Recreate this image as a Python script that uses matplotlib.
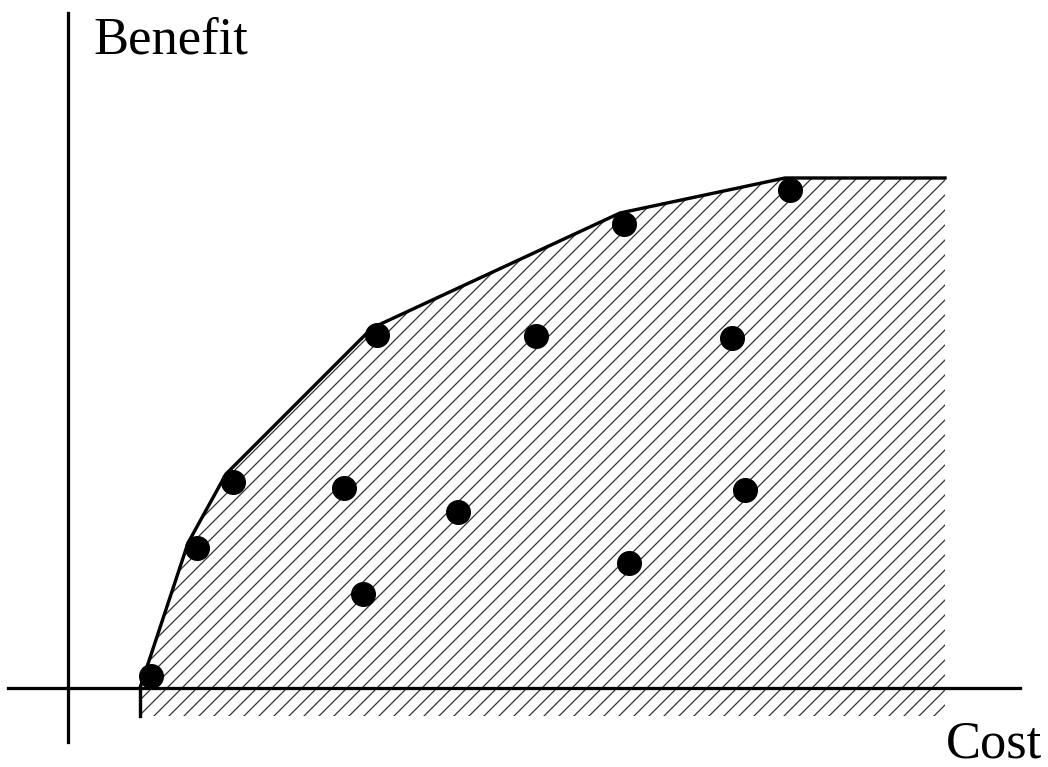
import matplotlib
matplotlib.use("Agg")
import matplotlib.pyplot as plt

# ---------- DATA ---------- #
# candidate projects (cost, benefit)
cost = [0.83, 1.29, 1.65, 3.09, 5.56, 7.22, 4.68, 6.64, 2.76, 3.90, 6.77, 2.95, 5.61]
benefit = [0.12, 1.40, 2.06, 3.53, 4.64, 4.98, 3.52, 3.50, 2.00, 1.76, 1.98, 0.94, 1.25]

# efficient frontier vertices
front_cost = [0.72, 1.20, 1.58, 3.04, 5.52, 7.17, 8.77]
front_benefit = [0.00, 1.45, 2.14, 3.60, 4.75, 5.10, 5.10]

hatch_bottom = -0.28

# ---------- PLOT ---------- #
plt.rcParams["hatch.linewidth"] = 1.0
plt.rcParams["font.family"] = ["Liberation Serif", "DejaVu Serif"]

dpi = 90
fig = plt.figure(figsize=(1048 / dpi, 767 / dpi), dpi=dpi)
ax = fig.add_axes([0, 0, 1, 1])
ax.set_xlim(-0.68, 9.80)
ax.set_ylim(-0.79, 6.88)
ax.axis("off")

# shaded feasible region
poly_x = front_cost + [front_cost[-1], front_cost[0]]
poly_y = front_benefit + [hatch_bottom, hatch_bottom]
ax.fill(poly_x, poly_y, facecolor="none", edgecolor="#333333", linewidth=0, hatch="//")

# frontier line
ax.plot(front_cost, front_benefit, color="black", lw=2.7, solid_joinstyle="round")
ax.plot([front_cost[0], front_cost[0]], [0, hatch_bottom], color="black", lw=2.7)

# axes
ax.plot([0, 0], [-0.54, 6.75], color="black", lw=2.6)
ax.plot([-0.60, 9.52], [0, 0], color="black", lw=2.6)

# points
ax.plot(cost, benefit, "o", color="black", ms=19)

ax.text(0.25, 6.34, "Benefit", fontsize=42, ha="left", va="baseline")
ax.text(8.78, -0.69, "Cost", fontsize=42, ha="left", va="baseline")

fig.savefig("out.png", dpi=dpi)
